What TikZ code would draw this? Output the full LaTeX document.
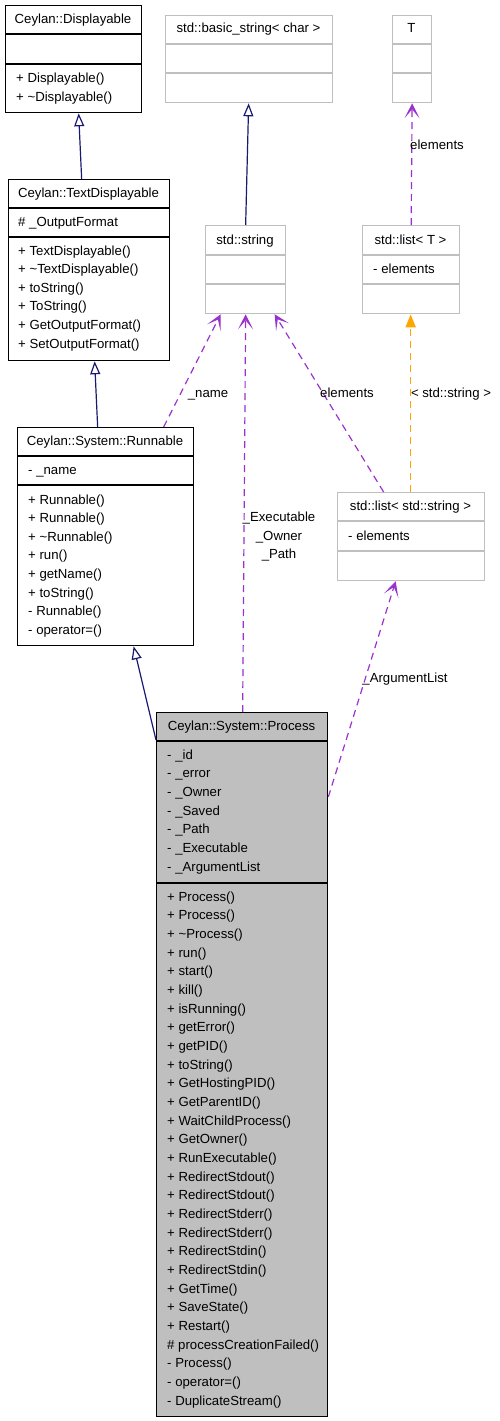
\documentclass[tikz,border=0pt]{standalone}
\usepackage{fontspec}
\setmainfont{Liberation Sans}
\usetikzlibrary{arrows.meta}
\definecolor{pur}{HTML}{9A32CD}
\definecolor{navyb}{HTML}{191970}
\definecolor{orng}{HTML}{FFA500}
\definecolor{lgray}{HTML}{BFBFBF}
\definecolor{pfill}{HTML}{BFBFBF}
\begin{document}
\begin{tikzpicture}[x=1pt,y=-1pt,
  font=\fontsize{13.2}{16}\selectfont,
  blk/.style={draw=black, line width=1.3pt, inner sep=0pt, anchor=north west},
  gry/.style={draw=lgray, line width=1.3pt, inner sep=0pt, anchor=north west},
  blkdiv/.style={draw=black, line width=1.8pt},
  grydiv/.style={draw=lgray, line width=1.3pt},
  txt/.style={anchor=base west, inner sep=0pt},
  ttl/.style={anchor=base, inner sep=0pt},
  lbl/.style={anchor=base, inner sep=0pt},
  inh/.style={draw=navyb, line width=1.2pt, -{Triangle[open, length=13pt, width=10pt, fill=white]}},
  use/.style={draw=pur, line width=1.2pt, dash pattern=on 7pt off 5pt, -{Stealth[length=15pt, width=15pt, inset=9pt]}},
  tmpl/.style={draw=orng, line width=1.6pt, dash pattern=on 7pt off 5pt, -{Triangle[length=13pt, width=10pt, fill=orng]}},
]
\useasboundingbox (0,0) rectangle (499,1421);

% Ceylan::Displayable
\node[blk, minimum width=136pt, minimum height=107pt] (disp) at (5,5) {};
\draw[blkdiv] (5,34) -- (141,34);
\draw[blkdiv] (5,64) -- (141,64);
\node[ttl] (disp-t) at (73,23.5) {Ceylan::Displayable};
\node[txt] (disp-m1) at (16,82) {+ Displayable()};
\node[txt] (disp-m2) at (16,101) {+ \textasciitilde Displayable()};

% Ceylan::TextDisplayable
\node[blk, minimum width=161pt, minimum height=181pt] (td) at (8,179) {};
\draw[blkdiv] (8,208) -- (169,208);
\draw[blkdiv] (8,237) -- (169,237);
\node[ttl] (td-t) at (88.5,197) {Ceylan::TextDisplayable};
\node[txt] (td-a1) at (18,226) {\# \_OutputFormat};
\foreach \t [count=\i from 0] in {{+ TextDisplayable()},{+ \textasciitilde TextDisplayable()},{+ toString()},{+ ToString()},{+ GetOutputFormat()},{+ SetOutputFormat()}}
  \node[txt] (td-m\i) at (18,255+18.6*\i) {\t};

% std::basic_string< char >
\node[gry, minimum width=167pt, minimum height=87pt] (bs) at (165,15) {};
\draw[grydiv] (165,44) -- (332,44);
\draw[grydiv] (165,73) -- (332,73);
\node[ttl] (bs-t) at (248.5,33) {std::basic\_string< char >};

% T
\node[gry, minimum width=39pt, minimum height=87pt] (tt) at (392,15) {};
\draw[grydiv] (392,44) -- (431,44);
\draw[grydiv] (392,73) -- (431,73);
\node[ttl] (tt-t) at (411.5,33) {T};

% std::string
\node[gry, minimum width=80pt, minimum height=88pt] (str) at (205,225) {};
\draw[grydiv] (205,255) -- (285,255);
\draw[grydiv] (205,284) -- (285,284);
\node[ttl] (str-t) at (245,244) {std::string};

% std::list< T >
\node[gry, minimum width=97pt, minimum height=88pt] (lt) at (362,225) {};
\draw[grydiv] (362,255) -- (459,255);
\draw[grydiv] (362,284) -- (459,284);
\node[ttl] (lt-t) at (410.5,244) {std::list< T >};
\node[txt] (lt-a1) at (373,273) {- elements};

% Ceylan::System::Runnable
\node[blk, minimum width=176pt, minimum height=218pt] (run) at (17,427) {};
\draw[blkdiv] (17,456) -- (193,456);
\draw[blkdiv] (17,485) -- (193,485);
\node[ttl] (run-t) at (105,445) {Ceylan::System::Runnable};
\node[txt] (run-a1) at (28,474) {- \_name};
\foreach \t [count=\i from 0] in {{+ Runnable()},{+ Runnable()},{+ \textasciitilde Runnable()},{+ run()},{+ getName()},{+ toString()},{- Runnable()},{- operator=()}}
  \node[txt] (run-m\i) at (28,504+18.6*\i) {\t};

% std::list< std::string >
\node[gry, minimum width=147pt, minimum height=88pt] (ll) at (337,492) {};
\draw[grydiv] (337,521) -- (484,521);
\draw[grydiv] (337,551) -- (484,551);
\node[ttl] (ll-t) at (410.5,510) {std::list< std::string >};
\node[txt] (ll-a1) at (348,540) {- elements};

% Ceylan::System::Process
\node[blk, fill=pfill, minimum width=171pt, minimum height=704pt] (proc) at (156,712) {};
\draw[blkdiv] (156,741) -- (327,741);
\draw[blkdiv] (156,883) -- (327,883);
\node[ttl] (proc-t) at (241.5,730) {Ceylan::System::Process};
\foreach \t [count=\i from 0] in {{- \_id},{- \_error},{- \_Owner},{- \_Saved},{- \_Path},{- \_Executable},{- \_ArgumentList}}
  \node[txt] (proc-a\i) at (167,759+18.67*\i) {\t};
\foreach \t [count=\i from 0] in {{+ Process()},{+ Process()},{+ \textasciitilde Process()},{+ run()},{+ start()},{+ kill()},{+ isRunning()},{+ getError()},{+ getPID()},{+ toString()},{+ GetHostingPID()},{+ GetParentID()},{+ WaitChildProcess()},{+ GetOwner()},{+ RunExecutable()},{+ RedirectStdout()},{+ RedirectStdout()},{+ RedirectStderr()},{+ RedirectStderr()},{+ RedirectStdin()},{+ RedirectStdin()},{+ GetTime()},{+ SaveState()},{+ Restart()},{\# processCreationFailed()},{- Process()},{- operator=()},{- DuplicateStream()}}
  \node[txt] (proc-m\i) at (167,901+18.67*\i) {\t};

% inheritance
\draw[inh] ([xshift=-7.5pt]td.north) -- ([xshift=5pt]disp.south);
\draw[inh] ([xshift=-8pt]run.north) -- ([xshift=5.5pt]td.south);
\draw[inh] (str.north) -- ([xshift=-0.5pt]bs.south);
\draw[inh] ([yshift=-28pt]proc.north west) -- ([xshift=28pt]run.south);

% usage
\draw[use] ([xshift=58pt]run.north) -- ([xshift=-25pt]str.south);
\node[lbl] (l-name) at (208,397) {\_name};
\draw[use] ([xshift=0.5pt]proc.north) -- (str.south);
\node[lbl] (l-ex) at (279,521) {\_Executable};
\node[lbl] (l-ow) at (279,540) {\_Owner};
\node[lbl] (l-pa) at (279,558) {\_Path};
\draw[use] ([xshift=-27.5pt]ll.north) -- ([xshift=29pt]str.south);
\node[lbl] (l-el) at (347,397) {elements};
\draw[tmpl] ([xshift=-0.5pt]ll.north) -- ([xshift=-0.5pt]lt.south);
\node[lbl] (l-ts) at (451,397) {< std::string >};
\draw[use] (lt.north) -- (tt.south);
\node[lbl] (l-el2) at (437,149) {elements};
\draw[use] ([yshift=-85pt]proc.north east) -- ([xshift=-15.5pt]ll.south);
\node[lbl] (l-arg) at (405,682) {\_ArgumentList};
\end{tikzpicture}
\end{document}
